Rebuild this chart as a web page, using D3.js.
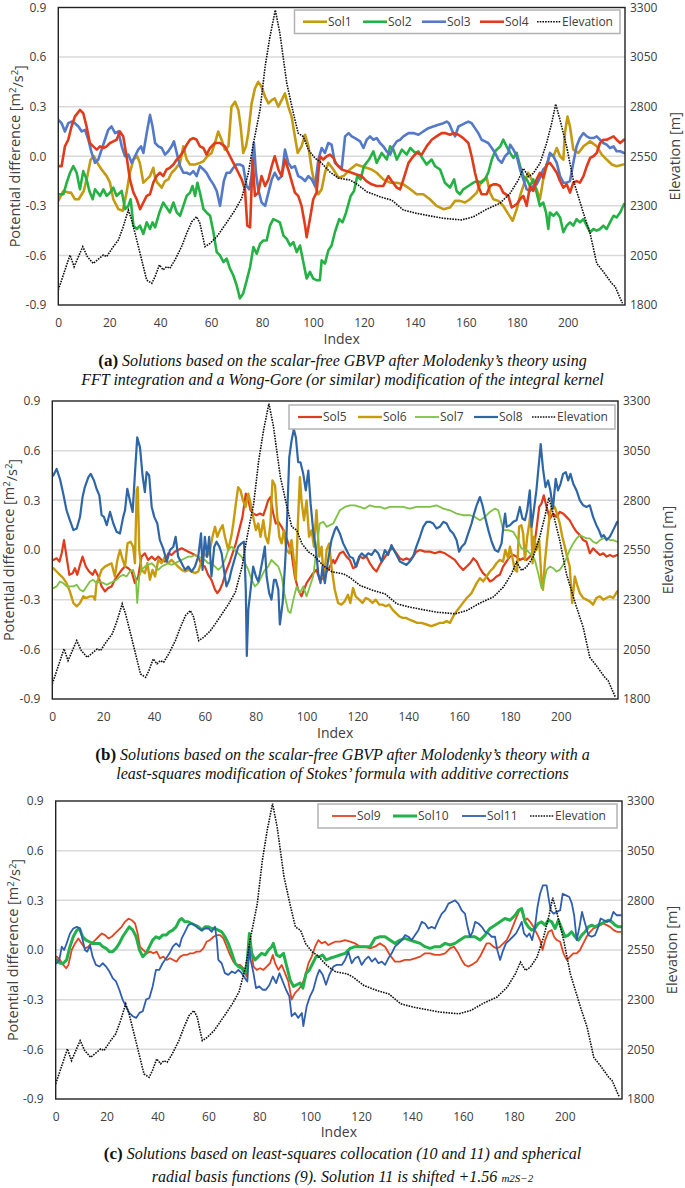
<!DOCTYPE html>
<html><head><meta charset="utf-8">
<script src="https://cdn.jsdelivr.net/npm/d3@7"></script>
<style>body{margin:0;background:#fff}svg{display:block}</style>
</head><body>
<svg id="chart" width="685" height="1188"></svg>
<script>
const indexTicks=[0,20,40,60,80,100,120,140,160,180,200];
const potTicks=[-0.9,-0.6,-0.3,0,0.3,0.6,0.9];
const elevTicks=[1800,2050,2300,2550,2800,3050,3300];
const indexDomain=[0,222.5];

const elevation=[[0,1876],[4.6,2052],[6.2,1993],[9.6,2094],[11.4,2044],[13.7,2010],[17.7,2052],[19,2044],[21.6,2094],[23.6,2128],[25.5,2195],[27.5,2279],[28.8,2229],[30.8,2128],[33.4,1993],[34.7,1926],[36.7,1909],[38,1943],[39.7,2002],[41.2,1977],[42.5,1993],[43.8,1985],[45.8,2027],[48.4,2094],[50.4,2161],[52.4,2220],[54.3,2245],[55.6,2212],[57.6,2094],[59.6,2111],[62.2,2144],[64.1,2178],[66.8,2229],[69.4,2279],[72,2338],[74.6,2464],[76.6,2615],[79.2,2783],[81.2,3002],[83.1,3153],[85.2,3287],[87,3170],[89.7,2918],[92.3,2767],[94.2,2666],[96.2,2649],[98.2,2582],[100.8,2540],[102.7,2524],[104.5,2500],[106.7,2470],[110,2440],[114.5,2430],[117,2412],[121.1,2371],[126.3,2346],[129.2,2335],[130.9,2329],[135.5,2279],[140.7,2262],[146,2249],[151.2,2237],[158.4,2229],[163,2245],[168.2,2283],[173.4,2313],[177.4,2363],[180.6,2430],[182.6,2489],[184.6,2447],[186.5,2464],[189.1,2514],[191.7,2615],[193.7,2716],[195.3,2813],[197,2733],[199.6,2598],[202.2,2430],[206.2,2262],[208.8,2161],[211.4,2010],[214,1968],[217.3,1909],[218.6,1893],[220.6,1834],[221.5,1809]];

const sol1=[[0,-0.27],[2,-0.21],[4,-0.22],[5,-0.22],[6.5,-0.26],[8,-0.26],[10,-0.21],[11.4,-0.12],[12.7,-0.02],[14,0],[15.7,-0.05],[17,-0.08],[19,-0.12],[20.3,-0.16],[21.6,-0.26],[23.6,-0.32],[25.3,-0.33],[26.8,-0.22],[28.1,-0.1],[29.5,-0.02],[31,0],[32,-0.04],[33.4,-0.16],[34.7,-0.14],[36,-0.12],[37.3,-0.07],[38,-0.13],[38.9,-0.16],[40.6,-0.19],[41.9,-0.15],[43.2,-0.14],[44.5,-0.1],[45.8,-0.08],[47.8,-0.04],[49.1,0.06],[50.4,-0.02],[51.7,-0.05],[53.7,-0.05],[55.6,-0.04],[57,-0.03],[58.5,0],[60.2,0.02],[61.5,0.08],[62.8,0.15],[64.1,0.1],[65.4,0.04],[66.8,0.06],[68,0.3],[69.4,0.33],[70.7,0.28],[71.6,0.18],[72.6,0.02],[73.7,0.06],[74.6,0.14],[75.9,0.32],[77.2,0.41],[78.5,0.45],[79.8,0.42],[81.2,0.36],[82.5,0.32],[83.8,0.34],[85,0.35],[86.4,0.3],[87.7,0.34],[89,0.38],[90.3,0.3],[91.6,0.24],[92.9,0.12],[94,0.02],[95.5,0.06],[96.9,0.13],[98.2,0.06],[99.5,-0.08],[100.8,-0.18],[102.1,-0.23],[103.4,-0.2],[104.7,-0.1],[106,-0.04],[108,-0.08],[110,-0.13],[112,-0.12],[114.5,-0.08],[117,-0.05],[119,-0.06],[121,-0.07],[123,-0.08],[125,-0.1],[127.6,-0.14],[130.3,-0.16],[132.9,-0.16],[135.5,-0.17],[138.2,-0.2],[140.7,-0.23],[143.3,-0.23],[145.9,-0.26],[148.5,-0.3],[151.2,-0.32],[153.8,-0.31],[155.8,-0.27],[157.7,-0.27],[159.7,-0.28],[161.6,-0.26],[164.3,-0.22],[166.2,-0.15],[168.2,-0.13],[169.5,-0.22],[170.8,-0.26],[172.8,-0.27],[174.7,-0.3],[176.7,-0.35],[178.4,-0.39],[180,-0.32],[181.3,-0.24],[183.2,-0.15],[184.5,-0.1],[185.8,-0.14],[187.8,-0.2],[189.1,-0.26],[190.4,-0.14],[191.7,-0.06],[193,0.01],[194.4,0],[195.7,0.05],[197,0],[198.3,-0.02],[198.9,0.14],[199.9,0.24],[200.9,0.18],[202.2,0.04],[204.2,0.02],[206.2,0.06],[208.8,0.09],[211.4,0.06],[213.4,0.01],[215.3,-0.02],[217.3,-0.05],[219.2,-0.06],[221.8,-0.05]];

const sol2=[[0,-0.23],[2,-0.23],[3.3,-0.16],[4.6,-0.1],[5.9,-0.06],[7.2,-0.1],[8.5,-0.2],[9.8,-0.09],[11.1,-0.14],[12.2,-0.21],[13.5,-0.26],[14.4,-0.2],[16.4,-0.24],[17.7,-0.2],[19,-0.24],[20.3,-0.22],[21.6,-0.19],[22.9,-0.24],[24.9,-0.21],[26.2,-0.32],[27.5,-0.3],[28.4,-0.26],[29.5,-0.42],[30.8,-0.44],[32.1,-0.42],[33.4,-0.47],[34.7,-0.4],[36,-0.44],[37,-0.4],[38,-0.43],[39.7,-0.34],[41.2,-0.28],[42.5,-0.31],[43.8,-0.34],[45.2,-0.28],[46.5,-0.34],[47.8,-0.36],[49.1,-0.3],[50.4,-0.24],[51.7,-0.22],[52.7,-0.18],[53.7,-0.24],[54.6,-0.16],[55.6,-0.22],[57,-0.32],[58.2,-0.34],[59.6,-0.36],[60.9,-0.46],[62.2,-0.58],[63.5,-0.6],[64.8,-0.64],[66.1,-0.62],[67.4,-0.68],[68.7,-0.72],[70,-0.78],[71.3,-0.86],[72.6,-0.83],[74,-0.75],[75.3,-0.67],[76.6,-0.55],[77.9,-0.59],[79.2,-0.53],[80.5,-0.51],[81.8,-0.51],[83.1,-0.42],[84.4,-0.38],[85.7,-0.39],[87,-0.4],[88.4,-0.48],[89.7,-0.5],[91,-0.54],[92.3,-0.52],[93.6,-0.58],[94.9,-0.54],[96.2,-0.64],[97.5,-0.74],[98.8,-0.7],[100.1,-0.74],[101.4,-0.75],[102.7,-0.75],[103.4,-0.63],[104.7,-0.65],[106,-0.57],[107.3,-0.54],[108.6,-0.46],[110.3,-0.38],[111.6,-0.4],[113,-0.34],[114.8,-0.24],[116.1,-0.21],[117.4,-0.12],[118.7,-0.14],[120,-0.06],[122,-0.02],[123.7,0.03],[125,-0.04],[127,0.02],[129,-0.02],[130.3,0.06],[131.6,0.04],[132.9,-0.02],[134.9,0.04],[136.8,0.01],[138.2,0.05],[140.1,0.02],[141.4,0.03],[143.3,-0.02],[144.6,-0.05],[146.6,-0.02],[147.9,-0.06],[149.9,-0.08],[151.8,-0.16],[153.8,-0.19],[155.4,-0.14],[156.4,-0.21],[157.7,-0.23],[159,-0.2],[161,-0.18],[163,-0.16],[164.3,-0.15],[166.2,-0.16],[167.5,-0.14],[168.8,-0.1],[170.2,-0.02],[171.5,0.03],[173.5,0.06],[174.7,0.1],[176,0.06],[177.4,0.02],[178.7,-0.01],[180,0.02],[181.3,-0.06],[182.6,-0.12],[183.9,-0.14],[185.2,-0.18],[186.5,-0.14],[187.8,-0.22],[189.1,-0.3],[190.4,-0.28],[191.5,-0.34],[192.4,-0.44],[193,-0.34],[194.4,-0.36],[195.7,-0.34],[197,-0.37],[198.3,-0.46],[199.6,-0.42],[200.9,-0.4],[202.2,-0.42],[203.5,-0.38],[204.8,-0.4],[206.2,-0.38],[207.5,-0.42],[208.8,-0.46],[210.1,-0.44],[211.4,-0.45],[212.7,-0.44],[214,-0.42],[215.3,-0.44],[216.6,-0.4],[218,-0.36],[219.2,-0.37],[220.6,-0.34],[222.1,-0.29]];

const sol3=[[0,0.22],[1.3,0.2],[2.6,0.15],[3.9,0.2],[5.2,0.21],[6.5,0.2],[7.9,0.18],[9.2,0.15],[10.5,0.16],[11.8,0.1],[13.1,0.02],[14.4,-0.04],[15.7,-0.02],[17,0.04],[18.3,0.1],[19.6,0.16],[20.9,0.18],[22.3,0.14],[23.6,0.15],[24.9,0.06],[26.2,0],[27.5,0.01],[28.8,-0.04],[30.1,0],[31.4,0.04],[32.5,0.06],[33.4,0.02],[34.7,0.14],[36,0.25],[37,0.18],[38,0.08],[39.3,0.06],[40.6,0.05],[41.9,0.01],[43.2,0.03],[44.5,0.06],[45.4,0.09],[46.5,0.02],[47.8,-0.06],[49.1,-0.1],[50.4,-0.1],[51.7,-0.11],[53,-0.09],[54.3,-0.12],[55.6,-0.06],[57,-0.08],[58.2,-0.1],[59.6,-0.14],[60.9,-0.17],[62.2,-0.21],[63.5,-0.3],[64.1,-0.24],[65,-0.15],[66.1,-0.1],[67.4,-0.1],[68.7,-0.07],[70,-0.05],[71.3,-0.05],[72.6,-0.06],[73.9,-0.18],[75,-0.2],[75.9,-0.12],[76.8,0.08],[77.6,-0.1],[78.5,-0.2],[79.8,-0.28],[81.2,-0.3],[82.5,-0.22],[83.8,-0.14],[85,-0.1],[86.4,-0.14],[87.7,-0.12],[89,0.04],[90.3,-0.04],[91.6,-0.07],[92.9,-0.06],[94.2,-0.12],[95.5,-0.13],[96.9,-0.15],[98.2,-0.12],[99.5,-0.14],[100.8,-0.18],[102.1,-0.02],[103.4,0.05],[104.7,0.02],[106,0.08],[107.3,0.07],[108.6,-0.04],[110,-0.06],[111.3,-0.07],[112.6,0.12],[114,0.14],[115.2,0.12],[116.5,0.11],[118.5,0.09],[119.8,0.05],[121.1,0.1],[122.4,0.12],[123.7,0.1],[125,0.11],[126.3,0.08],[127.6,0.06],[128.9,0.03],[130.3,0.01],[131.6,0.06],[132.9,0.09],[134.2,0.1],[135.5,0.12],[137.5,0.14],[139.4,0.14],[141.4,0.13],[143.3,0.15],[145.3,0.17],[147.2,0.18],[149.2,0.19],[151.2,0.2],[152.5,0.21],[153.4,0.2],[154.5,0.16],[155.8,0.12],[157.1,0.18],[158.4,0.19],[159.7,0.2],[161,0.21],[162.3,0.2],[163.6,0.17],[164.9,0.14],[166.2,0.1],[167.5,0.09],[168.8,0.08],[170.2,0.05],[171.5,0.02],[172.8,-0.02],[174.1,-0.04],[175.4,0],[176.7,0.02],[177.4,0.07],[178.7,0.04],[180,0],[181.3,-0.08],[182.6,-0.14],[183.9,-0.2],[185.2,-0.21],[186.5,-0.18],[187.8,-0.17],[189.1,-0.13],[190.4,-0.08],[191.7,-0.06],[193,0.02],[194.4,0],[195.7,-0.04],[197,-0.12],[198.3,-0.16],[199.6,-0.16],[200.9,-0.15],[202.2,-0.04],[203.5,0.06],[204.8,0.11],[206.2,0.14],[207.5,0.12],[208.8,0.11],[210.1,0.11],[211.4,0.12],[212.7,0.1],[214,0.08],[215.3,0.07],[216.6,0.05],[218,0.06],[219.2,0.03],[220.6,0.03],[222.1,0.02]];

const sol4=[[0,-0.06],[1.3,-0.06],[2.6,0.06],[3.9,0.1],[5.2,0.18],[6.5,0.24],[8.5,0.28],[9.8,0.26],[11.1,0.18],[12.4,0.08],[13.7,0.06],[15.1,0.04],[16.4,0.06],[17.7,0.05],[19,0.06],[20.3,0.08],[21.6,0.09],[22.9,0.1],[24.2,0.15],[25.5,0.12],[26.8,0],[28.1,-0.14],[29.5,-0.22],[30.8,-0.26],[32.1,-0.32],[33.4,-0.28],[34.7,-0.24],[36,-0.23],[37.3,-0.16],[38.6,-0.12],[39.9,-0.1],[41.2,-0.12],[42.5,-0.08],[43.8,-0.07],[45.2,-0.05],[46.5,-0.02],[47.8,0],[49.1,0.03],[50.4,0.07],[51.7,0.1],[53,0.11],[54.3,0.1],[55.6,0.06],[57,0.05],[58.2,0.01],[59.6,0.05],[61.5,0.08],[63.5,0.08],[65.4,0.06],[67.4,0],[69.4,-0.06],[70.7,-0.1],[72,-0.14],[73.3,-0.2],[74.2,-0.42],[75.3,-0.43],[76.3,-0.02],[77.2,-0.24],[78.5,-0.22],[79.8,-0.12],[81.2,-0.18],[82.5,-0.14],[83.8,-0.06],[85,0],[86.4,-0.08],[87.7,-0.12],[89,-0.02],[90.3,-0.08],[91.6,-0.15],[92.9,-0.22],[94.2,-0.24],[95.5,-0.3],[96.9,-0.42],[97.5,-0.49],[98.8,-0.38],[100.1,-0.26],[101.4,-0.22],[102.7,0],[104,-0.02],[105.4,0],[106.7,0.01],[108,-0.01],[109.3,-0.05],[111.3,-0.08],[113.2,-0.09],[115.2,-0.1],[117.1,-0.11],[119.1,-0.12],[121,-0.15],[123,-0.17],[125,-0.18],[127.6,-0.18],[129.6,-0.12],[130.9,-0.15],[132.9,-0.19],[134.2,-0.2],[135.5,-0.14],[137.5,-0.04],[139.4,0],[140.7,0.02],[142.7,0.01],[144.6,0.06],[146.6,0.1],[148.5,0.12],[150.5,0.14],[151.8,0.14],[153.8,0.13],[155.1,0.14],[157.1,0.13],[159,0.11],[161,0.08],[162.3,0],[163.6,-0.1],[164.9,-0.18],[166.2,-0.23],[168.2,-0.23],[169.5,-0.18],[170.8,-0.17],[172.1,-0.17],[173.4,-0.18],[174.7,-0.22],[176.7,-0.24],[178,-0.31],[180,-0.29],[181.3,-0.26],[182.6,-0.24],[183.9,-0.3],[185.2,-0.18],[186.5,-0.21],[187.8,-0.14],[189.1,-0.1],[190.4,-0.13],[191.7,-0.05],[193,-0.04],[194.4,-0.07],[195.7,-0.1],[197,-0.15],[198.3,-0.19],[199.6,-0.17],[200.9,-0.22],[202.2,-0.16],[203.5,-0.15],[204.8,-0.16],[206.2,-0.12],[207.5,-0.06],[208.8,-0.01],[210.1,0],[211.4,0.02],[212.7,0.08],[214,0.1],[215.3,0.1],[216.6,0.11],[218,0.12],[219.2,0.1],[220.6,0.08],[222.1,0.1]];

const sol5=[[0.4,-0.06],[1.7,-0.05],[2.8,-0.07],[3.7,-0.02],[4.6,0.06],[5.6,-0.04],[6.7,-0.15],[8,-0.14],[8.9,-0.11],[9.8,-0.15],[10.9,-0.09],[11.9,-0.04],[13.2,-0.1],[14.5,-0.13],[15.9,-0.15],[16.8,-0.12],[18.1,-0.16],[19.4,-0.22],[20.7,-0.25],[22,-0.23],[23.3,-0.22],[24.6,-0.18],[25.9,-0.15],[27.3,-0.12],[28.6,-0.1],[29.9,-0.11],[31.2,-0.13],[32.5,-0.2],[33.8,-0.16],[35.1,-0.04],[36.4,-0.02],[37.7,-0.06],[39.1,-0.04],[40.4,-0.06],[41.7,-0.04],[43,-0.06],[44.3,-0.07],[45.6,-0.02],[46.9,-0.03],[48.2,-0.01],[49.5,0],[50.9,0.01],[52.2,0],[53.5,-0.01],[54.8,-0.02],[56.1,-0.03],[57.4,-0.04],[58.7,-0.09],[60,-0.1],[61.3,-0.15],[62.6,-0.18],[64,-0.24],[64.9,-0.26],[65.9,-0.24],[67,-0.2],[68.3,-0.13],[69.6,-0.08],[70.9,-0.02],[72.2,0.04],[73.5,0.12],[74.8,0.2],[76.1,0.34],[77.1,0.3],[78,0.24],[79,0.22],[80.3,0.21],[81.7,0.22],[83,0.21],[83.9,0.25],[84.9,0.3],[85.8,0.32],[86.9,0.22],[87.9,0.16],[88.9,0.17],[90.2,0.14],[91.5,0.1],[92.8,0.04],[94.1,-0.02],[95.4,-0.16],[96.7,-0.24],[98,-0.28],[99,-0.24],[100,-0.2],[101.3,-0.17],[102.6,-0.14],[103.9,-0.12],[105.2,-0.18],[106.6,-0.17],[107.9,-0.13],[109.2,-0.1],[110.5,-0.06],[111.1,-0.08],[113.1,-0.02],[114.4,-0.01],[115.7,-0.04],[117,-0.06],[118.3,-0.11],[119.6,-0.1],[120.9,-0.04],[122.3,-0.05],[123.6,-0.04],[124.9,-0.08],[126.2,-0.11],[127.5,-0.13],[128.8,-0.09],[130.1,-0.06],[131.4,-0.03],[132.7,0],[134,0.01],[135.4,-0.02],[136.7,-0.05],[138,-0.06],[139.3,-0.05],[140.6,-0.06],[141.9,-0.04],[143.2,-0.01],[144.6,0],[146.5,-0.01],[148.5,-0.01],[150.5,-0.02],[152.4,-0.01],[154.4,-0.02],[156.4,-0.04],[158.3,-0.06],[160.3,-0.1],[161.6,-0.12],[163,-0.1],[164.3,-0.08],[165.6,-0.05],[166.9,-0.07],[168.2,-0.11],[169.4,-0.14],[170.8,-0.16],[172.1,-0.19],[173.4,-0.18],[174.7,-0.16],[176,-0.15],[177.3,-0.1],[178.6,-0.07],[180,-0.04],[181.3,-0.03],[182.6,-0.04],[183.9,-0.06],[185.2,-0.05],[186.5,-0.06],[187.8,-0.04],[189.1,-0.02],[190.4,0.12],[191.5,0.26],[192.4,0.28],[193.3,0.33],[194.4,0.26],[195.7,0.19],[197,0.22],[198.3,0.2],[199.6,0.23],[200.9,0.22],[202.2,0.2],[203.5,0.18],[204.9,0.14],[206.2,0.11],[207.5,0.09],[208.8,0.06],[210.1,0.05],[211.4,-0.02],[212.7,0.01],[214,-0.01],[215.4,-0.03],[216.7,-0.02],[218,-0.04],[219.3,-0.03],[220.6,-0.04],[222.2,-0.03]];

const sol6=[[0.4,-0.11],[1.7,-0.13],[3,-0.15],[4.3,-0.17],[5.6,-0.2],[6.9,-0.25],[8.3,-0.32],[9.6,-0.34],[10.9,-0.32],[12.2,-0.28],[13.5,-0.29],[14.8,-0.28],[16.1,-0.28],[16.8,-0.3],[17.4,-0.2],[18.5,-0.16],[19.4,-0.12],[20.7,-0.1],[22,-0.09],[23.3,-0.08],[24.6,-0.16],[25.6,-0.06],[26.6,0],[27.7,-0.06],[28.6,-0.1],[29.6,0.04],[30.8,0.05],[31.8,0.02],[32.5,-0.08],[33.2,0.36],[33.6,0.38],[34.2,0],[35.1,-0.12],[36.4,-0.14],[37.4,-0.08],[38.4,-0.18],[39.4,-0.12],[40.4,-0.16],[41.7,-0.06],[43,-0.08],[44.3,-0.04],[45.6,-0.08],[46.9,-0.06],[48.2,-0.08],[49.5,-0.1],[50.9,-0.12],[52.2,-0.13],[53.5,-0.12],[54.8,-0.13],[56.1,-0.14],[57.4,-0.13],[58.5,-0.08],[59.7,-0.02],[60.7,-0.04],[62,0],[63,0.08],[64,0.14],[64.9,0.08],[65.9,0.12],[67,0.15],[67.9,0.08],[69.2,0],[70.5,0.09],[71.2,0.16],[72.2,0.28],[73.1,0.38],[74,0.36],[75,0.3],[76,0.26],[77.1,0.34],[78,0.28],[79,0.2],[80.1,0.12],[81,0.16],[81.9,0.08],[83,0.18],[83.9,0.08],[84.9,0.04],[85.8,0.16],[86.6,0.42],[87.6,0.39],[88.5,0.2],[89.3,0.08],[90.2,0.04],[91.1,0.12],[92.1,0],[93.2,-0.02],[94.1,0.06],[95,-0.06],[95.8,-0.18],[96.7,0.2],[97.4,0.44],[98,0.3],[99,0.18],[100,0.3],[101,0.08],[102,0.12],[102.9,0.02],[103.9,0.24],[105,-0.04],[105.9,0.02],[106.8,-0.18],[107.9,0],[108.9,0.04],[109.8,-0.1],[111.1,-0.24],[112.4,-0.32],[113.7,-0.33],[115,-0.31],[116.3,-0.27],[117.2,-0.32],[118.3,-0.23],[119.3,-0.28],[120.7,-0.3],[122,-0.32],[123.3,-0.29],[124.6,-0.3],[125.9,-0.32],[127.2,-0.3],[128.6,-0.33],[129.9,-0.33],[131.2,-0.34],[132.5,-0.33],[133.8,-0.36],[135.1,-0.38],[136.4,-0.4],[137.8,-0.41],[139.1,-0.41],[140.4,-0.42],[142,-0.43],[143.5,-0.44],[145.2,-0.44],[147.2,-0.45],[149.1,-0.46],[150.9,-0.45],[152.4,-0.44],[153.8,-0.44],[155.1,-0.43],[156.4,-0.44],[157.7,-0.4],[159,-0.37],[161,-0.33],[163,-0.29],[164.9,-0.26],[166.9,-0.2],[168.2,-0.17],[169.5,-0.19],[170.8,-0.16],[172.1,-0.13],[173.4,-0.11],[174.7,-0.08],[176,-0.06],[177.3,-0.07],[178.2,0],[179.3,-0.05],[180,0.02],[180.9,-0.04],[181.9,-0.12],[182.8,-0.13],[183.6,0.14],[184.5,0.15],[185.2,0.1],[185.9,-0.06],[186.8,0.08],[187.6,0.16],[188.2,0.24],[188.9,-0.08],[189.5,0.08],[190.4,0],[191.5,0.06],[192.4,-0.18],[193,-0.24],[193.7,-0.08],[194.6,0.06],[195.7,0.22],[196.7,0.27],[197.6,0.26],[198.5,0.22],[199.6,0.16],[200.6,0.08],[201.6,0.02],[202.5,-0.04],[203.5,-0.1],[204.5,-0.32],[205.5,-0.16],[206.4,-0.21],[207.5,-0.26],[208.8,-0.29],[210.1,-0.3],[211.4,-0.31],[212.7,-0.33],[214,-0.29],[215.4,-0.28],[216.7,-0.3],[218,-0.29],[219.3,-0.28],[220.6,-0.29],[222.2,-0.25]];

const sol7=[[0.4,-0.23],[1.7,-0.22],[3,-0.19],[4.3,-0.2],[5.6,-0.22],[6.9,-0.22],[8.3,-0.22],[9.6,-0.21],[10.9,-0.24],[12.2,-0.25],[13.5,-0.22],[14.8,-0.19],[16.1,-0.18],[17.4,-0.2],[18.7,-0.19],[20.1,-0.2],[21.4,-0.21],[22.7,-0.2],[24,-0.19],[25.3,-0.18],[26.6,-0.16],[27.9,-0.15],[29.2,-0.16],[30.5,-0.13],[31.8,-0.12],[32.9,-0.18],[33.4,-0.32],[34.2,-0.16],[35.1,-0.12],[36.4,-0.1],[37.7,-0.09],[39.1,-0.08],[40.4,-0.1],[41.7,-0.12],[43,-0.1],[44.3,-0.09],[45.6,-0.08],[46.9,-0.09],[48.2,-0.08],[49.5,-0.07],[50.9,-0.06],[52.2,-0.05],[53.5,-0.04],[54.8,-0.04],[56.1,-0.03],[57.4,-0.04],[58.7,-0.05],[60,-0.06],[61.3,-0.08],[62.6,-0.08],[64,-0.1],[65.3,-0.12],[66.6,-0.1],[67.9,-0.06],[69.2,0],[70.5,0.02],[71.8,0],[73.1,-0.02],[74.4,-0.04],[75.8,-0.08],[77.1,-0.12],[78.4,-0.18],[79.7,-0.22],[81,-0.2],[82.3,-0.16],[83.6,-0.12],[84.9,-0.1],[86.2,-0.06],[87.5,-0.08],[88.9,-0.1],[90.2,-0.16],[91.5,-0.28],[92.8,-0.37],[93.7,-0.38],[94.8,-0.3],[96.1,-0.22],[97.4,-0.26],[98.7,-0.22],[100,-0.28],[101.3,-0.22],[102.6,-0.16],[103.9,0],[105.2,0.16],[106.6,0.17],[107.9,0.14],[109.2,0.15],[110.5,0.16],[111.8,0.2],[113.1,0.24],[115.1,0.26],[117,0.27],[119,0.27],[120.9,0.26],[122.9,0.25],[124.9,0.27],[126.9,0.26],[128.8,0.26],[130.8,0.25],[132.7,0.26],[135.4,0.26],[138,0.26],[140.6,0.25],[143.2,0.26],[145.9,0.26],[148.5,0.26],[151.1,0.27],[153.8,0.25],[156.4,0.24],[159,0.22],[161.6,0.21],[164.3,0.21],[166.2,0.2],[168.2,0.18],[170.2,0.2],[172.1,0.23],[174.1,0.25],[175.4,0.24],[176.3,0.19],[177.3,0.12],[179.3,0.12],[181.3,0.11],[183.2,0.06],[184.5,0.01],[186.5,0],[188.5,-0.03],[189.8,-0.06],[191.1,-0.14],[192.4,-0.23],[193.3,-0.2],[194.4,-0.12],[195.7,-0.1],[197,-0.11],[198.3,-0.13],[199.6,-0.12],[200.9,-0.09],[202.2,-0.05],[203.5,0],[204.9,0.04],[206.2,0.07],[207.5,0.09],[208.8,0.08],[210.1,0.07],[211.4,0.07],[212.7,0.05],[214,0.04],[215.4,0.06],[216.7,0.07],[218,0.07],[219.3,0.06],[220.6,0.06],[222.2,0.05]];

const sol8=[[0.4,0.45],[1.7,0.49],[3,0.43],[4.3,0.34],[5.6,0.24],[6.9,0.18],[8.3,0.12],[9.6,0.13],[10.9,0.2],[11.9,0.32],[12.8,0.38],[14.2,0.44],[15.1,0.46],[16.4,0.42],[17.4,0.37],[18.5,0.33],[19.4,0.21],[20.3,0.2],[21.4,0.15],[22.7,0.23],[24,0.16],[25.3,0.11],[26.6,0.1],[27.9,0.2],[28.6,0.24],[29.5,0.37],[30.5,0.3],[31.6,0.23],[32.5,0.46],[33.4,0.68],[34.5,0.62],[35.5,0.45],[36.4,0.35],[37.1,0.47],[38.1,0.45],[39.1,0.26],[40.1,0.2],[41.3,0.16],[42.3,0.06],[43.6,0.01],[45,-0.07],[46.3,0],[47.6,0.02],[48.5,0.08],[49.5,-0.04],[50.9,-0.08],[52.2,-0.12],[53.5,-0.1],[54.8,-0.13],[56.1,-0.1],[57.4,-0.04],[58.5,0.1],[59.1,-0.12],[60,0.08],[60.9,-0.04],[61.7,0.08],[62.6,-0.16],[63.7,0.02],[64.6,0.05],[65.7,0.02],[66.6,-0.02],[67.5,-0.12],[68.5,-0.22],[69.6,-0.18],[70.5,-0.12],[71.8,-0.05],[73.1,0.02],[74.4,0.04],[75.4,0.05],[76.1,-0.24],[76.5,-0.64],[77.1,-0.36],[78,-0.24],[79,-0.1],[80.1,-0.16],[81,-0.19],[81.7,-0.14],[82.7,-0.06],[83.6,0.02],[84.3,-0.16],[85.3,-0.26],[86.2,-0.3],[87.2,-0.18],[87.9,-0.18],[88.9,-0.24],[89.5,-0.45],[90.6,-0.32],[91.5,-0.1],[92.1,0.08],[93.2,0.56],[94.1,0.66],[95,0.73],[95.8,0.68],[96.7,0.53],[97.6,0.53],[98.7,0.46],[99.7,0.36],[100.7,0.48],[101.6,0.28],[102.6,0.12],[103.7,0],[104.6,-0.14],[105.5,-0.2],[106.3,-0.1],[107.2,-0.2],[108.5,-0.06],[109.8,0.06],[111.1,0.12],[111.8,0.14],[113.1,0.1],[114.4,0.04],[115.7,0],[117,-0.04],[118.3,-0.05],[119.4,-0.1],[120.7,-0.04],[121.7,-0.02],[123,-0.04],[124.3,-0.02],[125.6,-0.03],[126.9,0],[128.2,-0.02],[129.5,-0.07],[130.8,0],[132.1,-0.03],[133.4,0.03],[134.3,0],[135.4,-0.03],[136.7,-0.07],[138,-0.08],[139.3,-0.09],[140.6,-0.07],[141.9,-0.04],[143.2,0.02],[144.6,0.08],[145.9,0.14],[147.2,0.17],[148.5,0.17],[149.8,0.16],[151.1,0.13],[152.4,0.14],[153.8,0.17],[155.1,0.16],[156.4,0.12],[157.7,0.1],[159,0.06],[160,-0.01],[161,0.02],[162.3,0.04],[163.6,0.1],[164.9,0.16],[165.9,0.22],[166.9,0.27],[168.2,0.32],[169.2,0.27],[170.2,0.2],[171.5,0.12],[172.8,0.05],[174.1,0],[175.4,-0.01],[176.7,0.04],[177.4,0.14],[178.1,0.22],[178.7,0.14],[180,0.15],[181.3,0.17],[182.6,0.18],[183.9,0.26],[184.9,0.19],[185.9,0.18],[186.8,0.24],[187.8,0.36],[188.5,0.14],[189.4,0.24],[190.4,0.36],[191.5,0.54],[192.1,0.64],[193,0.49],[194,0.38],[195,0.42],[195.9,0.36],[196.9,0.25],[198,0.43],[198.9,0.36],[199.9,0.4],[200.9,0.46],[202,0.47],[202.9,0.42],[203.8,0.46],[204.9,0.4],[206.2,0.36],[207.5,0.3],[208.8,0.27],[210.1,0.26],[211.4,0.27],[212.7,0.2],[214,0.15],[215,0.12],[216,0.08],[216.9,0.09],[218,0.06],[219.3,0.08],[220.6,0.12],[222.2,0.17]];

const sol9=[[0.4,-0.04],[1.7,-0.06],[3,-0.09],[4.1,-0.11],[5,-0.09],[6.3,0],[7.6,0.04],[8.9,0.07],[10.2,0.04],[11.5,0.01],[12.8,0.02],[14.1,0.04],[15.5,0.06],[16.8,0.08],[18.1,0.1],[19.4,0.09],[20.7,0.07],[22,0.08],[23.3,0.1],[24.6,0.12],[25.9,0.14],[27.2,0.17],[28.6,0.19],[29.9,0.18],[31.2,0.16],[32.2,0.1],[33.1,0.02],[34.4,0],[35.8,-0.02],[37.1,-0.01],[38.4,-0.02],[39.7,-0.01],[41,-0.05],[42.3,-0.04],[43.6,-0.06],[44.9,-0.05],[46.2,-0.06],[47.5,-0.07],[48.9,-0.04],[50.2,-0.03],[51.5,-0.03],[52.8,-0.02],[54.1,-0.02],[55.4,-0.01],[56.7,-0.01],[58,0.01],[59.3,0.05],[60.6,0.06],[62,0.08],[63.3,0.09],[64.6,0.09],[65.9,0.07],[67.2,0.02],[68.5,-0.03],[69.8,-0.07],[71.1,-0.09],[72.4,-0.09],[73.7,-0.11],[75,-0.16],[76.1,0],[76.6,0.04],[77.7,-0.1],[79,-0.12],[80.3,-0.11],[81.6,-0.12],[82.9,-0.1],[84.2,-0.08],[85.3,-0.03],[86.2,-0.08],[87.5,-0.12],[88.8,-0.09],[90.1,-0.14],[91.4,-0.19],[92.7,-0.3],[94,-0.26],[95.3,-0.24],[96.7,-0.21],[98,-0.16],[99.3,-0.08],[100.6,-0.04],[101.9,0.02],[103.2,0.06],[104.5,0.04],[105.8,0.05],[107.1,0.03],[108.4,0.04],[109.8,0.05],[111.7,0.05],[113.7,0.06],[115.7,0.05],[117.6,0.04],[119.6,0.02],[121.5,0.02],[123.5,0.01],[125.4,0.02],[127.4,0.04],[129.4,0.02],[131.3,-0.03],[133.3,-0.07],[135.3,-0.07],[137.2,-0.06],[139.2,-0.06],[141.2,-0.05],[143.2,-0.04],[145.1,-0.02],[147.1,-0.02],[149,-0.03],[151,-0.03],[153,-0.02],[154.9,0.01],[156.5,0.02],[158.2,-0.02],[159.5,-0.06],[160.8,-0.09],[162.1,-0.1],[163.4,-0.09],[165.4,-0.07],[166.7,-0.04],[168,0],[169.3,0.04],[170.6,0.04],[171.9,0.02],[173.3,0.01],[174.6,0.02],[175.9,0.04],[177.2,0.06],[178.5,0.1],[179.8,0.15],[181.1,0.2],[182.5,0.25],[183.5,0.22],[184.4,0.18],[185.3,0.19],[186.4,0.17],[187.7,0.14],[189,0.1],[190.3,0.06],[191.3,0],[192.3,0.06],[193.6,0.11],[194.9,0.12],[195.8,0.08],[196.9,0.06],[198.2,0.05],[199.5,-0.02],[200.8,-0.06],[202.1,-0.04],[203.4,-0.02],[204.7,-0.02],[206,0],[207.3,0.04],[208.6,0.08],[210,0.11],[211.3,0.13],[212.6,0.14],[213.9,0.15],[215.2,0.16],[216.5,0.15],[217.8,0.14],[219.2,0.12],[220.5,0.11],[222,0.11]];

const sol10=[[0.4,-0.06],[1.7,-0.08],[3,-0.08],[4.3,-0.06],[5.6,0.02],[6.9,0.08],[8.3,0.12],[9.3,0.13],[10.6,0.08],[11.9,0.06],[13.2,0.05],[14.5,0.04],[15.8,0.04],[17.2,0.04],[18.5,0.02],[19.8,0.01],[21.1,-0.01],[22.4,-0.01],[23.7,0.01],[25,0.04],[26.3,0.08],[27.6,0.11],[28.9,0.14],[30.3,0.12],[31.6,0.08],[32.9,0],[34.2,-0.04],[35.5,-0.02],[36.8,0.02],[38.1,0.06],[39.4,0.08],[40.7,0.07],[42,0.09],[43.4,0.09],[44.7,0.11],[46,0.12],[47.3,0.14],[48.6,0.18],[49.5,0.19],[50.8,0.17],[52.1,0.17],[53.4,0.16],[54.7,0.15],[56.1,0.14],[57.4,0.12],[58.7,0.14],[60,0.14],[61.3,0.13],[62.6,0.13],[63.9,0.12],[65.2,0.11],[66.5,0.08],[67.8,0.04],[69.2,-0.02],[70.5,-0.08],[71.8,-0.1],[73.1,-0.11],[74.4,-0.14],[75.3,-0.06],[76.1,0.1],[77,-0.02],[78.3,-0.06],[79.6,-0.04],[80.9,-0.02],[82.3,-0.03],[83.6,0],[84.9,0.02],[85.5,0.04],[86.8,-0.03],[88.1,-0.04],[89.5,-0.02],[90.8,-0.1],[92.1,-0.18],[93.4,-0.22],[94.7,-0.21],[96,-0.2],[97.1,-0.23],[98.4,-0.14],[99.7,-0.12],[101,-0.08],[102.3,-0.04],[103.6,-0.04],[104.9,-0.03],[106.2,-0.06],[107.8,-0.05],[109.8,-0.04],[111.7,-0.03],[113.7,-0.02],[115.7,0.01],[117.6,0.02],[119.6,0.02],[121.5,0.02],[123.5,0.02],[125.4,0.07],[127.4,0.08],[129.4,0.08],[131.3,0.06],[133.3,0.04],[135.3,0.06],[137.2,0.07],[139.2,0.06],[141.2,0.05],[143.2,0.04],[145.1,0.02],[147.1,0.01],[149,0.02],[151,0.02],[153,0.04],[154.9,0.03],[156.9,0.04],[158.8,0.06],[160.8,0.08],[162.8,0.08],[164.7,0.08],[166.7,0.06],[168.7,0.09],[170.6,0.13],[172.6,0.15],[174.6,0.17],[176.5,0.19],[178.5,0.18],[180.5,0.21],[181.8,0.24],[183.1,0.25],[184.4,0.17],[185.7,0.14],[187,0.12],[188.3,0.13],[189.6,0.16],[190.9,0.17],[192.3,0.15],[193.6,0.18],[194.9,0.17],[196.2,0.13],[197.5,0.18],[198.8,0.13],[200.1,0.08],[201.4,0.09],[202.7,0.11],[204,0.08],[205.4,0.06],[206.7,0.09],[208,0.11],[209.3,0.14],[210.6,0.15],[211.9,0.14],[213.2,0.15],[214.5,0.16],[215.8,0.17],[217.2,0.18],[218.5,0.17],[219.8,0.15],[221.1,0.14],[222.1,0.14]];

const sol11=[[0.4,-0.08],[1.4,-0.06],[2.4,0.02],[3.3,0],[4.3,0.04],[5.6,0.1],[6.9,0.13],[8.3,0.14],[9.6,0.13],[10.6,0.06],[11.5,0],[12.4,-0.01],[13.5,0.03],[14.5,-0.04],[15.8,-0.09],[17.2,-0.1],[18.5,-0.08],[19.8,-0.1],[21.1,-0.13],[22.4,-0.17],[23.7,-0.19],[25,-0.24],[26.3,-0.3],[27.6,-0.34],[28.9,-0.38],[30.3,-0.4],[31.6,-0.41],[32.9,-0.38],[34.2,-0.37],[35.5,-0.3],[36.8,-0.29],[38.1,-0.22],[39.4,-0.12],[40.7,-0.12],[42,-0.08],[43.4,-0.05],[44.7,-0.02],[46,0.02],[47.3,0.04],[48.6,0.02],[49.5,0.07],[50.8,0.11],[52.1,0.15],[53.4,0.16],[54.7,0.15],[56.1,0.13],[57.4,0.12],[58.7,0.13],[60,0.13],[61.3,0.11],[62.6,0.14],[63.3,0.06],[63.9,-0.06],[65.2,-0.08],[66.5,-0.14],[67.8,-0.15],[69.2,-0.13],[70.5,-0.14],[71.8,-0.12],[73.1,-0.14],[74.4,-0.17],[75.3,-0.19],[76.1,0.02],[76.6,-0.06],[77.7,-0.14],[78.7,-0.23],[80,-0.22],[81.3,-0.24],[82.6,-0.24],[84,-0.21],[85.3,-0.16],[86.6,-0.2],[87.9,-0.14],[89.2,-0.19],[90.5,-0.24],[91.8,-0.28],[92.7,-0.4],[94,-0.38],[95.3,-0.41],[96.7,-0.38],[97.3,-0.46],[98.6,-0.34],[99.9,-0.28],[101.2,-0.24],[102.6,-0.16],[103.6,-0.12],[104.9,-0.15],[106.2,-0.21],[107.5,-0.15],[109.1,-0.1],[110.4,-0.09],[112.4,-0.09],[113.7,-0.06],[115,-0.01],[116.3,-0.08],[117.6,-0.05],[118.9,-0.04],[120.2,-0.09],[121.5,-0.06],[122.9,-0.04],[124.2,-0.07],[125.5,-0.05],[126.8,-0.08],[128.1,-0.07],[129.4,-0.09],[130.7,-0.05],[132,-0.02],[133.3,0.02],[134.7,0.04],[136,0.06],[137.3,0.09],[138.6,0.08],[139.9,0.06],[141.2,0.09],[142.5,0.12],[143.8,0.17],[145.1,0.16],[146.4,0.13],[147.7,0.14],[149,0.13],[150.4,0.18],[151.7,0.22],[153,0.24],[154.3,0.28],[155.6,0.29],[156.9,0.3],[158.2,0.28],[159.5,0.24],[160.8,0.22],[161.7,0.15],[162.8,0.08],[163.8,0.11],[164.8,0.17],[166.1,0.16],[167.4,0.14],[168.7,0.11],[170,0.1],[171.3,0.08],[172.6,0.08],[173.5,0],[174.6,-0.06],[175.6,-0.01],[176.9,0.04],[178.3,0.06],[179.6,0.08],[180.9,0.1],[182.2,0.14],[183.1,0.17],[184,0.1],[185.1,0.08],[186.1,0.1],[187.2,0.06],[188.3,0.14],[189.3,0.26],[190.3,0.34],[191.4,0.39],[192.9,0.39],[193.6,0.32],[194.5,0.24],[195.6,0.22],[196.9,0.23],[198.2,0.24],[199.2,0.34],[200.5,0.33],[201.8,0.32],[202.8,0.28],[203.7,0.21],[204.7,0.06],[205.8,0.14],[206.8,0.23],[208,0.16],[209.3,0.09],[210.6,0.08],[211.9,0.09],[213.2,0.14],[214.1,0.19],[215.4,0.18],[216.7,0.17],[218,0.18],[219.1,0.23],[220.4,0.21],[222,0.21]];

const panels=[
  {left:58.3,right:625,top:7.5,bottom:305,
   series:[{name:'Sol1',data:sol1,color:'#c49a10',w:2.6},{name:'Sol2',data:sol2,color:'#25b244',w:2.6},{name:'Sol3',data:sol3,color:'#5479c8',w:2.6},{name:'Sol4',data:sol4,color:'#e03c1c',w:2.6}],
   legend:{x:294.5,y:10,w:325.5,h:23.5,items:[303,363,422,480,537]},
   xlabelY:339,caption:[360,379],
   capText:[["(a)"," Solutions based on the scalar-free GBVP after Molodenky’s theory using"],[""," FFT integration and a Wong-Gore (or similar) modification of the integral kernel"]]},
  {left:52.3,right:618,top:401,bottom:699,
   series:[{name:'Sol5',data:sol5,color:'#e03c1c',w:2.2},{name:'Sol6',data:sol6,color:'#c99b0c',w:2.4},{name:'Sol7',data:sol7,color:'#7dc243',w:1.8},{name:'Sol8',data:sol8,color:'#2e66a6',w:2.2}],
   legend:{x:289,y:405,w:326,h:24,items:[298,358,415,474,532]},
   xlabelY:733,caption:[754,773],
   capText:[["(b)"," Solutions based on the scalar-free GBVP after Molodenky’s theory with a"],[""," least-squares modification of Stokes’ formula with additive corrections"]]},
  {left:55.7,right:622,top:801,bottom:1099,
   series:[{name:'Sol9',data:sol9,color:'#e2451f',w:1.8},{name:'Sol10',data:sol10,color:'#22b14a',w:3},{name:'Sol11',data:sol11,color:'#2f5fae',w:1.8}],
   legend:{x:318,y:804,w:299,h:24,items:[332,393,462,530]},
   xlabelY:1132,caption:[1153,1176],
   capText:[["(c)"," Solutions based on least-squares collocation (10 and 11) and spherical"],[""," radial basis functions (9). Solution 11 is shifted +1.56 ","m2S−2"]]}
];

const svg=d3.select('#chart');
svg.append('rect').attr('width',685).attr('height',1188).attr('fill','#fff');
const FONT="'Open Sans', 'Noto Sans', sans-serif";
const TXT='#404040';

panels.forEach((p,pi)=>{
  const x=d3.scaleLinear().domain(indexDomain).range([p.left,p.right]);
  const y=d3.scaleLinear().domain([-0.9,0.9]).range([p.bottom,p.top]);
  const ye=d3.scaleLinear().domain([1800,3300]).range([p.bottom,p.top]);
  const g=svg.append('g');
  g.selectAll('line.grid').data(potTicks.slice(1,-1)).join('line')
    .attr('x1',p.left).attr('x2',p.right).attr('y1',d=>y(d)).attr('y2',d=>y(d))
    .attr('stroke','#d9d9d9').attr('stroke-width',1.5);
  const clipId='clip'+pi;
  svg.append('clipPath').attr('id',clipId).append('rect')
    .attr('x',p.left).attr('y',p.top-2).attr('width',p.right-p.left).attr('height',p.bottom-p.top+4);
  const plot=g.append('g').attr('clip-path',`url(#${clipId})`);
  const line=d3.line().x(d=>x(d[0])).y(d=>y(d[1]));
  p.series.forEach(s=>{
    plot.append('path').attr('d',line(s.data)).attr('fill','none')
      .attr('stroke',s.color).attr('stroke-width',s.w).attr('stroke-linejoin','round').attr('stroke-linecap','round');
  });
  const eline=d3.line().x(d=>x(d[0])).y(d=>ye(d[1]));
  plot.append('path').attr('d',eline(elevation)).attr('fill','none')
    .attr('stroke','#111').attr('stroke-width',1.6).attr('stroke-dasharray','1.6,1.1');
  g.append('rect').attr('x',p.left).attr('y',p.top).attr('width',p.right-p.left).attr('height',p.bottom-p.top)
    .attr('fill','none').attr('stroke','#222').attr('stroke-width',1.4);
  const styleAxis=a=>{a.select('.domain').remove();a.selectAll('text').attr('fill',TXT).style('font-family',FONT).style('font-size','12px');};
  g.append('g').attr('transform',`translate(${p.left},0)`)
    .call(d3.axisLeft(y).tickValues(potTicks).tickSize(0).tickPadding(12).tickFormat(d=>d.toFixed(1))).call(styleAxis);
  g.append('g').attr('transform',`translate(${p.right},0)`)
    .call(d3.axisRight(ye).tickValues(elevTicks).tickSize(0).tickPadding(5).tickFormat(d3.format('d'))).call(styleAxis);
  g.append('g').attr('transform',`translate(0,${p.bottom})`)
    .call(d3.axisBottom(x).tickValues(indexTicks).tickSize(0).tickPadding(13)).call(styleAxis);
  const lt=g.append('text').attr('transform',`translate(${p.left-43},${(p.top+p.bottom)/2}) rotate(-90)`)
    .attr('text-anchor','middle').attr('dy','0.35em').attr('fill',TXT).style('font-family',FONT).style('font-size','14.5px');
  lt.append('tspan').text('Potential difference [m');
  lt.append('tspan').text('2').attr('dy','-0.45em').style('font-size','9.5px');
  lt.append('tspan').text('/s').attr('dy','0.45em');
  lt.append('tspan').text('2').attr('dy','-0.45em').style('font-size','9.5px');
  lt.append('tspan').text(']').attr('dy','0.45em');
  g.append('text').attr('transform',`translate(${p.right+50},${(p.top+p.bottom)/2}) rotate(-90)`)
    .attr('text-anchor','middle').attr('dy','0.35em').attr('fill',TXT).style('font-family',FONT).style('font-size','14.5px').text('Elevation [m]');
  g.append('text').attr('x',(p.left+p.right)/2).attr('y',p.xlabelY).attr('text-anchor','middle').attr('dy','0.35em')
    .attr('fill',TXT).style('font-family',FONT).style('font-size','14px').text('Index');
  const L=p.legend;
  g.append('rect').attr('x',L.x).attr('y',L.y).attr('width',L.w).attr('height',L.h)
    .attr('fill','#fff').attr('stroke','#b3b3b3').attr('stroke-width',1.5);
  const names=p.series.map(s=>s.name).concat(['Elevation']);
  names.forEach((n,i)=>{
    const lx=L.items[i], cy=L.y+L.h/2;
    const s=p.series[i];
    const ln=g.append('line').attr('x1',lx).attr('x2',lx+24).attr('y1',cy).attr('y2',cy);
    if(s){ln.attr('stroke',s.color).attr('stroke-width',s.w);}
    else{ln.attr('stroke','#111').attr('stroke-width',1.6).attr('stroke-dasharray','1.6,1.1');}
    g.append('text').attr('x',lx+25).attr('y',cy).attr('dy','0.35em').attr('fill',TXT)
      .style('font-family',FONT).style('font-size','12px').text(n);
  });
  p.capText.forEach((row,ri)=>{
    const t=g.append('text').attr('x',342.5).attr('y',p.caption[ri]).attr('dy','0.35em').attr('text-anchor','middle')
      .style('font-family',"'Liberation Serif','Times New Roman',serif").style('font-size','16px').attr('fill','#111');
    if(row[0]) t.append('tspan').text(row[0]).style('font-weight','bold').style('font-size','17px');
    t.append('tspan').text(row[1]).style('font-style','italic');
    if(row[2]) t.append('tspan').text(row[2]).style('font-style','italic').style('font-size','11px');
  });
});
</script>
</body></html>
